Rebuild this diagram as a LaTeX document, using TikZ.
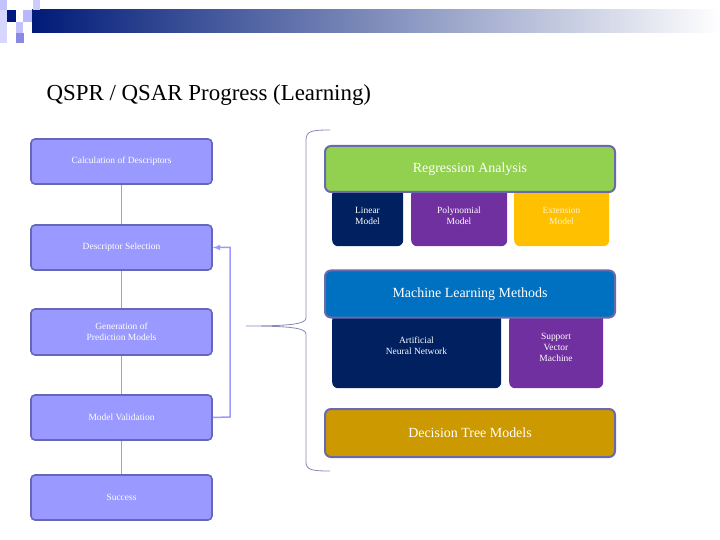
\documentclass[tikz,border=0pt]{standalone}
\usepackage{fontspec}
\setmainfont{Liberation Serif}
\begin{document}
\begin{tikzpicture}[x=1bp,y=-1bp,
 lbox/.style={draw=lbord,fill=lfill,rounded corners=4bp,line width=1.6bp,text=white,font=\fontsize{9.5}{11}\selectfont,align=center,inner sep=0},
 hbox/.style={draw=hbord,rounded corners=6bp,line width=2bp,text=white,font=\fontsize{14}{16}\selectfont,align=center,inner sep=0},
 sbox/.style={rounded corners=6bp,inner sep=0},
 stext/.style={font=\fontsize{9.5}{11}\selectfont,align=center,text=white},
 conn/.style={draw=lfill,line width=1.5bp}]
\definecolor{lfill}{HTML}{9999FF}
\definecolor{lbord}{HTML}{6666BB}
\definecolor{hbord}{HTML}{6A6AAA}
\definecolor{navy}{HTML}{002060}
\definecolor{purp}{HTML}{7030A0}
\definecolor{gold}{HTML}{FFC000}
\definecolor{rgreen}{HTML}{92D050}
\definecolor{mblue}{HTML}{0070C0}
\definecolor{dgold}{HTML}{CC9900}
\useasboundingbox (0,0) rectangle (720,540);
% top decoration
\shade[left color=navy!85!blue, right color=white] (32,10) rectangle (720,33);
\fill[navy!80!blue] (7,10) rectangle (16,22);
\fill[lfill!60] (0,0) rectangle (7,10);
\fill[lfill!50] (33,0) rectangle (40,10);
\fill[lfill!70] (23,10) rectangle (32,22);
\fill[lfill!60] (16,22) rectangle (23,33);
\fill[lfill!90!black] (16,33) rectangle (24,43);
\fill[lfill!40] (0,10) rectangle (7,43);
\node[anchor=base west,font=\fontsize{23}{26}\selectfont] (title) at (43,101) {QSPR / QSAR Progress (Learning)};
% left flow
\node[lbox,minimum width=181bp,minimum height=45bp] (c) at (121.5,161.5) {Calculation of Descriptors};
\node[lbox,minimum width=181bp,minimum height=45bp] (d) at (121.5,247.5) {Descriptor Selection};
\node[lbox,minimum width=181bp,minimum height=46bp] (g) at (121.5,332) {Generation of\\Prediction Models};
\node[lbox,minimum width=181bp,minimum height=45bp] (v) at (121.5,417.5) {Model Validation};
\node[lbox,minimum width=181bp,minimum height=45bp] (s) at (121.5,497.5) {Success};
\draw[conn] (c) -- (d); \draw[conn] (d) -- (g); \draw[conn] (g) -- (v); \draw[conn] (v) -- (s);
\coordinate (lx) at (230,417);
\draw[conn,-latex] (v.east) -- (lx) |- (d.east);
% brace
\coordinate (tip) at (246,326);
\draw[hbord!80,line width=0.8bp] (330,130) .. controls (312,130) and (306,131) .. (306,140) -- (306,318) .. controls (306,324) and (290,326) .. (tip) .. controls (290,326) and (306,328) .. (306,334) -- (306,462) .. controls (306,470) and (312,471) .. (330,471);
% right
\node[sbox,fill=navy,minimum width=71bp,minimum height=58bp,anchor=north west] (lin) at (332,188) {};
\node[stext] at (367.5,216) {Linear\\Model};
\node[sbox,fill=purp,minimum width=96bp,minimum height=58bp,anchor=north west] (pol) at (411,188) {};
\node[stext] at (459,216) {Polynomial\\Model};
\node[sbox,fill=gold,minimum width=95bp,minimum height=58bp,anchor=north west] (ext) at (514,188) {};
\node[stext,text=white!80!gold] at (561.5,216) {Extension\\Model};
\node[hbox,fill=rgreen,minimum width=290bp,minimum height=46bp] (ra) at (470,169) {Regression Analysis};
\node[sbox,fill=navy,minimum width=169bp,minimum height=74bp,anchor=north west] (ann) at (332,314) {};
\node[stext] at (416.5,346) {Artificial\\Neural Network};
\node[sbox,fill=purp,minimum width=94bp,minimum height=74bp,anchor=north west] (svm) at (509,314) {};
\node[stext] at (556,347) {Support\\Vector\\Machine};
\node[hbox,fill=mblue,minimum width=290bp,minimum height=47bp] (ml) at (470,294) {Machine Learning Methods};
\node[hbox,fill=dgold,minimum width=290bp,minimum height=48bp] (dt) at (470,433) {Decision Tree Models};
\end{tikzpicture}
\end{document}
